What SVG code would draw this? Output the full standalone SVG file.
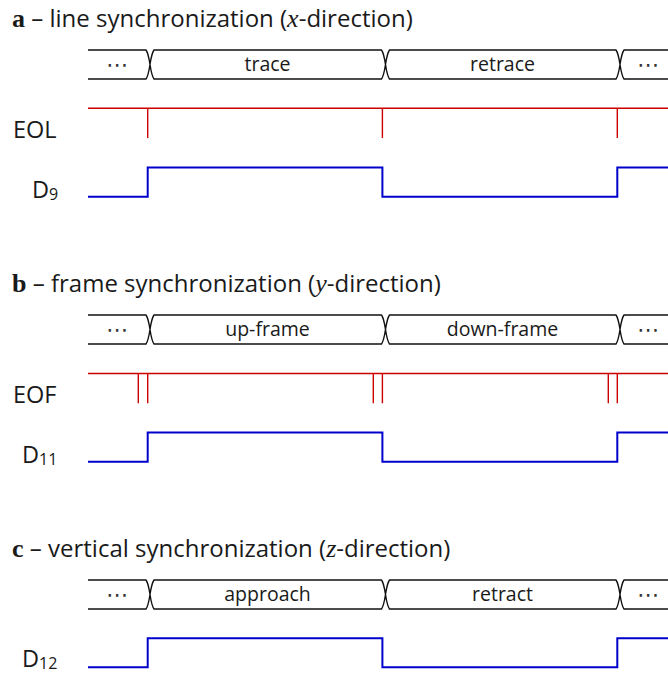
<svg xmlns="http://www.w3.org/2000/svg" width="668" height="675" viewBox="0 0 668 675">
<style>
.t{font-family:"Open Sans","Noto Sans",sans-serif;fill:#1a1a1a}
.title{font-size:24px}
.lab{font-size:23.5px}
.sub{font-size:16px}
.bus{fill:none;stroke:#111;stroke-width:1.4;stroke-linejoin:round}
.bt{font-size:19.5px;text-anchor:middle}
.dots{font-family:"DejaVu Sans",sans-serif;font-size:22px;text-anchor:middle;fill:#333}
.red{fill:none;stroke:#cc0000;stroke-width:1.4}
.blue{fill:none;stroke:#0000cc;stroke-width:2}
.ser{font-family:"Liberation Serif",serif}
</style>
<defs>
<path id="busshape" class="bus" d="M88,0 H146 C147.5,2 149.3,10 150,14.5 C150.7,19 152.5,27 154,29 H381.5 C383,27 384.8,19 385.5,14.5 C386.2,10 388,2 389.5,0 H616 C617.5,2 619.3,10 620,14.5 C620.7,19 622.5,27 624,29 H668 M88,29 H146 C147.5,27 149.3,19 150,14.5 C150.7,10 152.5,2 154,0 H381.5 C383,2 384.8,10 385.5,14.5 C386.2,19 388,27 389.5,29 H616 C617.5,27 619.3,19 620,14.5 C620.7,10 622.5,2 624,0 H668"/>
</defs>

<g id="panel-a">
<text class="t title" x="12" y="26.7"><tspan class="ser" font-weight="bold" font-size="26">a</tspan> – line synchronization (<tspan class="ser" font-style="italic" font-size="26">x</tspan>-direction)</text>
<g id="bus-a">
<use href="#busshape" y="50"/>
<text class="dots" x="117" y="71.5">⋯</text>
<text class="t bt" x="267.5" y="71">trace</text>
<text class="t bt" x="502.5" y="71">retrace</text>
<text class="dots" x="648" y="71.5">⋯</text>
</g>
<g id="eol">
<text class="t lab" x="13" y="138">EOL</text>
<path class="red" d="M88,108.3 H668 M147.7,108.3 V138 M382.4,108.3 V138 M617.3,108.3 V138"/>
</g>
<g id="d9">
<text class="t lab" x="32" y="198">D<tspan class="sub" dy="2">9</tspan></text>
<path class="blue" d="M88,196.7 H147.7 V167.5 H382.4 V196.7 H617.3 V167.5 H668"/>
</g>
</g>

<g id="panel-b">
<text class="t title" x="12" y="291.7"><tspan class="ser" font-weight="bold" font-size="26">b</tspan> – frame synchronization (<tspan class="ser" font-style="italic" font-size="26">y</tspan>-direction)</text>
<g id="bus-b">
<use href="#busshape" y="315"/>
<text class="dots" x="117" y="336.5">⋯</text>
<text class="t bt" x="267.5" y="336">up-frame</text>
<text class="t bt" x="502.5" y="336">down-frame</text>
<text class="dots" x="648" y="336.5">⋯</text>
</g>
<g id="eof">
<text class="t lab" x="13" y="403">EOF</text>
<path class="red" d="M88,373.5 H668 M138.3,373.5 V403.3 M147.7,373.5 V403.3 M373.3,373.5 V403.3 M382.4,373.5 V403.3 M608.3,373.5 V403.3 M617.3,373.5 V403.3"/>
</g>
<g id="d11">
<text class="t lab" x="22" y="463">D<tspan class="sub" dy="2">11</tspan></text>
<path class="blue" d="M88,461.7 H147.7 V432.5 H382.4 V461.7 H617.3 V432.5 H668"/>
</g>
</g>

<g id="panel-c">
<text class="t title" x="12" y="556.7"><tspan class="ser" font-weight="bold" font-size="26">c</tspan> – vertical synchronization (<tspan class="ser" font-style="italic" font-size="26">z</tspan>-direction)</text>
<g id="bus-c">
<use href="#busshape" y="580"/>
<text class="dots" x="117" y="601.5">⋯</text>
<text class="t bt" x="267.5" y="601">approach</text>
<text class="t bt" x="502.5" y="601">retract</text>
<text class="dots" x="648" y="601.5">⋯</text>
</g>
<g id="d12">
<text class="t lab" x="22" y="667">D<tspan class="sub" dy="2">12</tspan></text>
<path class="blue" d="M88,667.3 H147.7 V638.3 H382.4 V667.3 H617.3 V638.3 H668"/>
</g>
</g>

<g id="connectors"></g>
</svg>
